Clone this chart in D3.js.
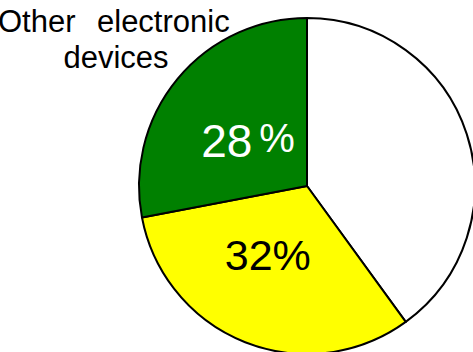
<!DOCTYPE html>
<html>
<head>
<meta charset="utf-8">
<script src="https://cdn.jsdelivr.net/npm/d3@7"></script>
<style>
  html, body { margin: 0; padding: 0; background: #fff; overflow: hidden; }
  svg { display: block; }
  text { font-family: "Liberation Sans", Arial, sans-serif; }
</style>
</head>
<body>
<svg id="chart" width="473" height="352"></svg>
<script>
// Data (clockwise from 12 o'clock)
const categories = ["Unlabeled A", "Unlabeled B", "Other electronic devices"];
const values = [40, 32, 28];
const colors = ["#ffffff", "#ffff00", "#008000"];
const valueLabels = ["", "32%", "28 %"];
const labelColors = ["#000000", "#000000", "#ffffff"];

const svg = d3.select("#chart");
const cx = 307, cy = 186, R = 168;

const g = svg.append("g").attr("transform", `translate(${cx},${cy})`);

const pie = d3.pie().sort(null).value(d => d)
  .startAngle(0).endAngle(2 * Math.PI);
const arcs = pie(values);
const arc = d3.arc().innerRadius(0).outerRadius(R);

g.selectAll("path.slice")
  .data(arcs)
  .join("path")
  .attr("class", "slice")
  .attr("d", arc)
  .attr("fill", (d, i) => colors[i])
  .attr("stroke", "#000")
  .attr("stroke-width", 2)
  .attr("stroke-linejoin", "round");

// value labels
const labelArc = d3.arc().innerRadius(74 * 2).outerRadius(0);
const offsets = [[0, 0], [-12, 14.7], [-2, 18]];
arcs.forEach((d, i) => {
  if (!valueLabels[i]) return;
  const [x, y] = labelArc.centroid(d);
  const t = g.append("text")
    .attr("x", x + offsets[i][0])
    .attr("y", y + offsets[i][1])
    .attr("text-anchor", "middle")
    .attr("fill", labelColors[i]);
  const m = valueLabels[i].match(/^(\d+)(\s*)%$/);
  if (i === 2) {
    t.attr("font-size", 46);
    t.append("tspan").text(m[1]);
    t.append("tspan").attr("dx", 6.8).attr("font-size", 40).attr("dy", -5).text("%");
  } else {
    t.attr("font-size", 43).text(valueLabels[i]);
  }
});

// category label (outside, top-left)
const cat = categories[2].split(" ");
const lab = svg.append("text").attr("fill", "#000").attr("font-size", 31);
lab.append("tspan").attr("x", -2).attr("y", 32).text(cat[0]);
lab.append("tspan").attr("x", 97).attr("y", 32).text(cat[1]);
svg.append("text").attr("fill", "#000").attr("font-size", 31)
  .attr("x", 116).attr("y", 68).attr("text-anchor", "middle").text(cat[2]);
</script>
</body>
</html>
